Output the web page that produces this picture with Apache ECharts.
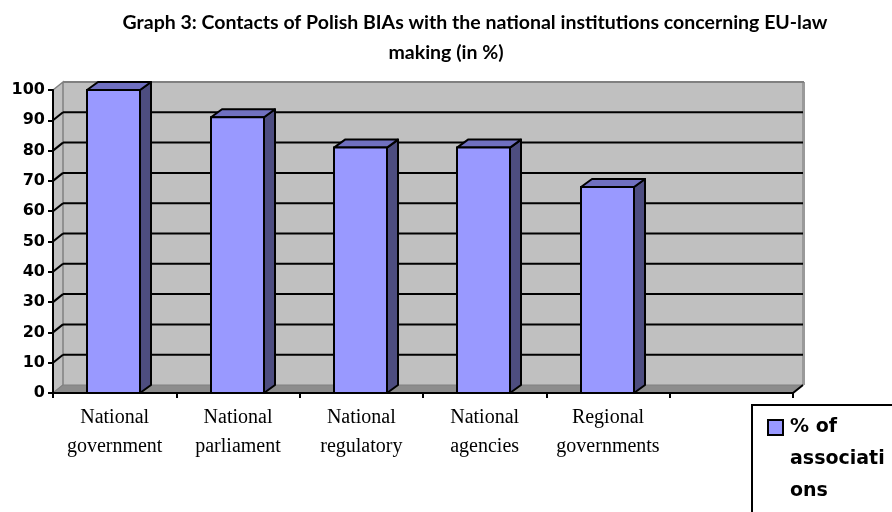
<!DOCTYPE html>
<html>
<head>
<meta charset="utf-8">
<script src="https://cdn.jsdelivr.net/npm/echarts@6/dist/echarts.min.js"></script>
<style>html,body{margin:0;padding:0;background:#fff}#c{width:892px;height:512px}</style>
</head>
<body>
<div id="c"></div>
<script>
const titleLine1 = 'Graph 3: Contacts of Polish BIAs with the national institutions concerning EU-law';
const titleLine2 = 'making (in %)';
const categories = ['National\ngovernment', 'National\nparliament', 'National\nregulatory', 'National\nagencies', 'Regional\ngovernments', ''];
const values = [100, 91, 81, 81, 68];
const seriesName = '% of associations';
const legendLabel = '% of\nassociati\nons';
const yMin = 0, yMax = 100, yInterval = 10;
const gridValues = [10, 20, 30, 40, 50, 60, 70, 80, 90];

const WDX = 10, WDY = -8;   // wall depth
const BDX = 11, BDY = -8;   // bar depth
const BAR_W = 53;
const FRONT = '#9999ff', SIDE = '#4d4d80', TOP = '#7070c0';
const WALL = '#c0c0c0', FLOOR = '#8c8c8c', EDGE = '#808080';
const SANS = 'Lato, "Open Sans", sans-serif';
const WIDE = '"DejaVu Sans", sans-serif';

const chart = echarts.init(document.getElementById('c'), null, {renderer: 'canvas'});

function renderWall(params, api) {
  const cs = params.coordSys;
  const x0 = cs.x, x1 = cs.x + cs.width;
  const yt = api.coord([0, yMax])[1];
  const yb = api.coord([0, yMin])[1];
  return {
    type: 'group',
    children: [
      {type: 'rect', shape: {x: x0 + WDX, y: yt + WDY, width: x1 - x0, height: yb - yt},
       style: {fill: WALL, stroke: null}},
      {type: 'rect', shape: {x: x1 + WDX - 1, y: yt + WDY, width: 3, height: yb - yt},
       style: {fill: '#9a9a9a'}},
      {type: 'line', shape: {x1: x0 + WDX, y1: yt + WDY, x2: x1 + WDX + 1, y2: yt + WDY},
       style: {stroke: EDGE, lineWidth: 2}},
      {type: 'polygon', shape: {points: [[x0, yt], [x0 + WDX, yt + WDY], [x0 + WDX, yb + WDY], [x0, yb]]},
       style: {fill: WALL, stroke: EDGE, lineWidth: 1.5}},
      {type: 'polygon', shape: {points: [[x0, yb], [x0 + WDX, yb + WDY], [x1 + WDX, yb + WDY], [x1, yb]]},
       style: {fill: FLOOR, stroke: EDGE, lineWidth: 1}},
      {type: 'line', shape: {x1: x1, y1: yb, x2: x1 + WDX, y2: yb + WDY},
       style: {stroke: '#000', lineWidth: 2}}
    ]
  };
}

function renderGrid(params, api) {
  const cs = params.coordSys;
  const x0 = cs.x, x1 = cs.x + cs.width;
  const y = api.coord([0, api.value(1)])[1];
  return {
    type: 'group',
    children: [
      {type: 'line', shape: {x1: x0 + WDX, y1: y + WDY, x2: x1 + WDX, y2: y + WDY},
       style: {stroke: '#000', lineWidth: 2}},
      {type: 'line', shape: {x1: x0, y1: y, x2: x0 + WDX, y2: y + WDY},
       style: {stroke: '#000', lineWidth: 2}}
    ]
  };
}

function renderBar(params, api) {
  const idx = api.value(0);
  const top = api.coord([idx, api.value(1)]);
  const base = api.coord([idx, 0]);
  const xl = Math.round(top[0] - BAR_W / 2) - 1;
  const xr = xl + BAR_W;
  const yt = top[1], yb = base[1];
  return {
    type: 'group',
    children: [
      {type: 'polygon', shape: {points: [[xr, yt], [xr + BDX, yt + BDY], [xr + BDX, yb + BDY], [xr, yb]]},
       style: {fill: SIDE, stroke: '#000', lineWidth: 2, lineJoin: 'round'}},
      {type: 'polygon', shape: {points: [[xl, yt], [xl + BDX, yt + BDY], [xr + BDX, yt + BDY], [xr, yt]]},
       style: {fill: TOP, stroke: '#000', lineWidth: 2, lineJoin: 'round'}},
      {type: 'rect', shape: {x: xl, y: yt, width: BAR_W, height: yb - yt},
       style: {fill: FRONT, stroke: '#000', lineWidth: 2}}
    ]
  };
}

const option = {
  animation: false,
  backgroundColor: '#fff',
  grid: {left: 53, right: 99, top: 90, bottom: 119, containLabel: false},
  xAxis: {
    type: 'category',
    data: categories,
    z: 10,
    axisLine: {show: true, lineStyle: {color: '#000', width: 2}},
    axisTick: {show: true, length: 5, lineStyle: {color: '#000', width: 2}},
    axisLabel: {color: '#000', fontFamily: '"Liberation Serif", "Times New Roman", serif', fontSize: 20,
                lineHeight: 29, margin: 10, interval: 0},
    splitLine: {show: false}
  },
  yAxis: {
    type: 'value',
    min: yMin, max: yMax, interval: yInterval,
    z: 10,
    axisLine: {show: true, lineStyle: {color: '#000', width: 2}},
    axisTick: {show: true, length: 5, lineStyle: {color: '#000', width: 2}},
    axisLabel: {color: '#000', fontFamily: WIDE, fontWeight: 'bold', fontSize: 16, margin: 8},
    splitLine: {show: false}
  },
  graphic: [
    {type: 'text', x: 475, y: 13, z: 100,
     style: {text: titleLine1, textAlign: 'center', fill: '#000', font: 'bold 19.5px ' + SANS}},
    {type: 'text', x: 446, y: 43, z: 100,
     style: {text: titleLine2, textAlign: 'center', fill: '#000', font: 'bold 19.5px ' + SANS}},
    {type: 'group', x: 752, y: 405, z: 100, children: [
      {type: 'rect', shape: {x: 0, y: 0, width: 160, height: 130},
       style: {fill: '#fff', stroke: '#000', lineWidth: 2}},
      {type: 'rect', shape: {x: 16, y: 15, width: 15, height: 15},
       style: {fill: FRONT, stroke: '#000', lineWidth: 2}},
      {type: 'text', x: 38, y: 6,
       style: {text: legendLabel, fill: '#000', font: 'bold 19px ' + WIDE, lineHeight: 32}}
    ]}
  ],
  series: [
    {type: 'custom', name: 'wall', z: 1, silent: true, renderItem: renderWall, data: [[0, 0]]},
    {type: 'custom', name: 'grid', z: 1, silent: true, renderItem: renderGrid,
     data: gridValues.map(v => [0, v])},
    {type: 'custom', name: seriesName, z: 5, renderItem: renderBar,
     data: values.map((v, i) => [i, v])}
  ]
};
chart.setOption(option);
</script>
</body>
</html>
